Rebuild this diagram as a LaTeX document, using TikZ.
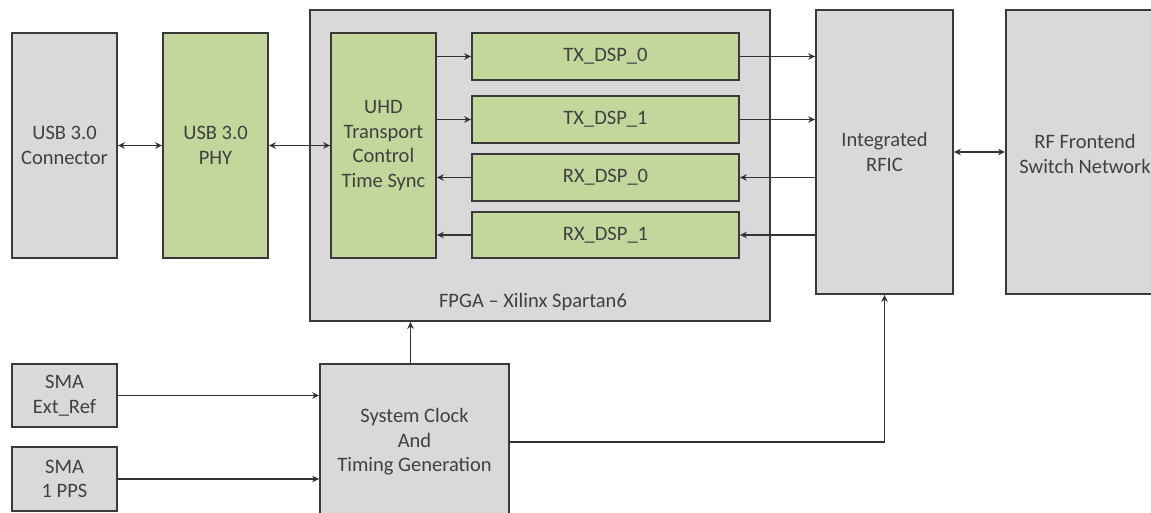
\documentclass[tikz,border=0pt]{standalone}
\usepackage{fontspec}
\setmainfont{Carlito}
\usetikzlibrary{arrows.meta,calc}
\definecolor{boxgray}{HTML}{D9D9D9}
\definecolor{boxgreen}{HTML}{C3D69B}
\definecolor{edge}{HTML}{3A3A3A}
\definecolor{txt}{HTML}{404040}
\tikzset{
  blk/.style={draw=edge, line width=1.8pt, inner sep=0pt, align=center, text=txt,
    font=\fontsize{20.5}{24.5}\selectfont},
  gbox/.style={blk, fill=boxgray},
  grbox/.style={blk, fill=boxgreen},
  conn/.style={line width=1.7pt, draw=black!80, -{Stealth[length=7pt,width=6.5pt]}},
  bconn/.style={line width=1.7pt, draw=black!80, {Stealth[length=7pt,width=6.5pt]}-{Stealth[length=7pt,width=6.5pt]}},
}
\begin{document}
\begin{tikzpicture}[x=1pt,y=-1pt]
\useasboundingbox (0,0) rectangle (1151,513);
\begin{scope}
\clip (0,0) rectangle (1151,513);
% left column
\node[gbox, minimum width=105, minimum height=225] (usbc) at (64.5,145.5) {USB 3.0\\Connector};
\node[grbox, minimum width=105, minimum height=225] (phy) at (215.5,145.5) {USB 3.0\\PHY};
% FPGA
\node[gbox, minimum width=460, minimum height=311] (fpga) at (540,165.5) {};
\node[text=txt, font=\fontsize{20.5}{24.5}\selectfont] (fpgalbl) at (533,302) {FPGA – Xilinx Spartan6};
\node[grbox, minimum width=105, minimum height=225] (uhd) at (383.5,145.5) {UHD\\Transport\\Control\\Time Sync};
\node[grbox, minimum width=267, minimum height=47] (tx0) at (605.5,56.5) {TX\_DSP\_0};
\node[grbox, minimum width=267, minimum height=47] (tx1) at (605.5,119.5) {TX\_DSP\_1};
\node[grbox, minimum width=267, minimum height=47] (rx0) at (605.5,177.5) {RX\_DSP\_0};
\node[grbox, minimum width=267, minimum height=46] (rx1) at (605.5,235) {RX\_DSP\_1};
% RF
\node[gbox, minimum width=137, minimum height=284] (rfic) at (884.5,152) {Integrated\\RFIC};
\node[gbox, minimum width=165, minimum height=284, anchor=west] (rffe) at (1005,152) {};
\node[text=txt, font=\fontsize{20.5}{24.5}\selectfont, align=center] (rffelbl) at (1085,154) {RF Frontend\\Switch Network};
% bottom
\node[gbox, minimum width=105, minimum height=63] (ext) at (64.5,395.5) {SMA\\Ext\_Ref};
\node[gbox, minimum width=105, minimum height=64] (pps) at (64.5,479) {SMA\\1 PPS};
\node[gbox, minimum width=189, minimum height=156] (sys) at (414.5,442) {System Clock\\And\\Timing Generation};
% connectors
\draw[bconn] (usbc.east) -- (phy.west);
\draw[bconn] (phy.east) -- (uhd.west);
\draw[conn] (tx0.west -| uhd.east) -- (tx0.west);
\draw[conn] (tx1.west -| uhd.east) -- (tx1.west);
\draw[conn] (rx0.west) -- (rx0.west -| uhd.east);
\draw[conn] (rx1.west) -- (rx1.west -| uhd.east);
\draw[conn] (tx0.east) -- (tx0.east -| rfic.west);
\draw[conn] (tx1.east) -- (tx1.east -| rfic.west);
\draw[conn] (rx0.east -| rfic.west) -- (rx0.east);
\draw[conn] (rx1.east -| rfic.west) -- (rx1.east);
\draw[bconn] (rfic.east) -- (rfic.east -| rffe.west);
\draw[conn] (ext.east) -- (ext.east -| sys.west);
\draw[conn] (pps.east) -- (pps.east -| sys.west);
\draw[conn] ($(sys.north)+(-4,0)$) -- ($(sys.north |- fpga.south)+(-4,0)$);
\draw[conn] (sys.east) -| (rfic.south);
\end{scope}
\end{tikzpicture}
\end{document}
